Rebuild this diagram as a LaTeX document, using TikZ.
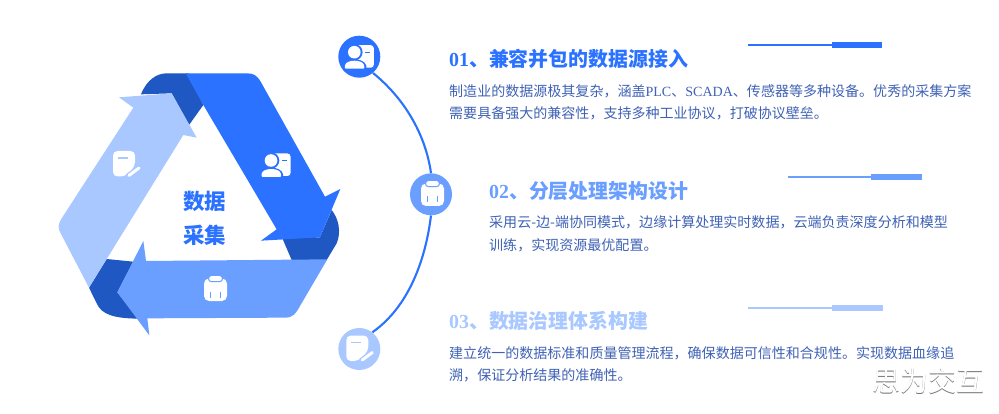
\documentclass[tikz,border=0pt]{standalone}
\usepackage{fontspec}
\setmainfont{Noto Sans CJK SC}
\newfontfamily\lat{Liberation Serif}
\definecolor{cdark}{HTML}{1F57C3}
\definecolor{cblue}{HTML}{2A72FF}
\definecolor{cmid}{HTML}{6A9EFF}
\definecolor{clight}{HTML}{A8C8FF}
\definecolor{cbody}{HTML}{3F62B5}
\tikzset{
  dot/.style={circle,minimum size=42pt,inner sep=0pt},
  ttl/.style={anchor=west,inner sep=0pt,font=\fontsize{19.9}{20}\selectfont\bfseries},
  bodytxt/.style={anchor=west,inner sep=0pt,text=cbody,font=\fontsize{14.03}{16}\selectfont},
  thin rule/.style={line width=2pt},
  thick rule/.style={line width=6pt},
  center txt/.style={inner sep=0pt,text=cblue,font=\fontsize{21.5}{24}\selectfont\bfseries},
  link/.style={cblue,line width=2.1pt},
}
\newcommand{\iconperson}[3]{% x y bg
 \begin{scope}[shift={(#1,#2)}]
  \fill[white,rounded corners=3pt] (-6,-11.5) rectangle (14.5,11);
  \fill[#3] (-5,-4.5) circle (8.3);
  \fill[#3] (-16,14) -- (-16,9) .. controls (-15,0.5) and (5,0.5) .. (7,9) -- (7,14) -- cycle;
  \fill[white] (-5,-4.5) circle (6.3);
  \fill[white,rounded corners=1pt] (-14.5,12) -- (-14.5,9.5) .. controls (-13,2.5) and (3.5,2.5) .. (5,9.5) -- (5,12) -- cycle;
  \draw[#3,line width=1.3pt] (5.5,-4.5) -- (10.5,-4.5);
 \end{scope}}
\newcommand{\iconclip}[3]{%
 \begin{scope}[shift={(#1,#2)}]
  \fill[white,rounded corners=5pt] (-11.5,-10) rectangle (11.5,12.5);
  \draw[#3,fill=white,line width=1pt,rounded corners=3pt] (-7,-13) rectangle (7,-6.8);
  \draw[#3,line width=1.4pt] (-5,3) -- (-5,9);
  \draw[#3,line width=1.4pt] (5,3) -- (5,9);
 \end{scope}}
\newcommand{\iconnote}[3]{%
 \begin{scope}[shift={(#1,#2)}]
  \fill[white,rounded corners=4.5pt] (-13,-13.5) -- (9,-13.5) -- (9,2) -- (-1,12) -- (-13,12) -- cycle;
  \draw[#3,line width=1.2pt] (-8,-6.5) -- (2,-6.5);
  \draw[#3,line width=6pt] (2,12) -- (14,3);
  \draw[white,line width=3pt,line cap=round] (3,11) -- (13,3.5);
 \end{scope}}
\begin{document}
\begin{tikzpicture}[x=1pt,y=-1pt]
\useasboundingbox (0,0) rectangle (999,414);
\fill[white] (0,0) rectangle (999,414);
% triangle
\begin{scope}[shift={(40,60)},x=0.33333pt,y=-0.33333pt]
 \fill[cdark] (303,103) .. controls (320,60) and (350,40) .. (380,40) -- (445,40) -- (490,135) -- (447,195) -- (395,100) -- cycle;
 \fill[cdark] (875,450) .. controls (895,475) and (905,515) .. (890,550) -- (860,600) -- (755,600) -- (725,530) -- (840,532) -- cycle;
 \fill[cdark] (147,683) -- (200,597) -- (280,605) -- (232,697) -- (295,776) .. controls (225,775) and (185,765) .. (170,730) -- cycle;
 \fill[cblue] (437,40) -- (620,40) .. controls (640,40) and (650,45) .. (662,65) -- (855,410) -- (901,387) -- (840,532) -- (663,542) -- (710,508) -- (490,135) -- cycle;
 \fill[cmid] (862,598) -- (780,738) .. controls (768,760) and (760,773) .. (735,773) -- (322,775) -- (328,826) -- (232,697) -- (310,543) -- (318,603) -- cycle;
 \fill[clight] (147,683) -- (62,520) .. controls (52,505) and (55,490) .. (65,475) -- (280,143) -- (237,112) -- (395,100) -- (470,233) -- (430,225) -- (200,597) -- cycle;
\end{scope}
\iconperson{276}{165}{cblue}
\iconclip{215.5}{288.5}{cmid}
\iconnote{126}{164.5}{clight}
\node[center txt] (ca) at (204.5,201.5) {数据};
\node[center txt] (cb) at (204.5,235) {采集};
% arc and dots
\node[dot,fill=cblue] (c1) at (359.3,56.7) {};
\node[dot,fill=cmid] (c2) at (431,194.3) {};
\node[dot,fill=clight] (c3) at (359.3,349) {};
\draw[link] (c1.-50) to[out=-39,in=98,looseness=.88] (c2.north);
\draw[link] (c2.south) to[out=-97,in=35,looseness=.87] (c3.52);
\iconperson{359.3}{56.7}{cblue}
\iconclip{432.5}{193.5}{cmid}
\iconnote{359.3}{349}{clight}
% rules
\coordinate (r1a) at (748,45.5); \coordinate (r1b) at (832,45.5); \coordinate (r1c) at (882,45.5);
\coordinate (r2a) at (788,177); \coordinate (r2b) at (871,177); \coordinate (r2c) at (922,177);
\coordinate (r3a) at (748,307.5); \coordinate (r3b) at (832,307.5); \coordinate (r3c) at (883,307.5);
\draw[cblue,thin rule] (r1a) -- (r1b); \draw[cblue,thick rule] (r1b) -- (r1c);
\draw[cmid,thin rule] (r2a) -- (r2b); \draw[cmid,thick rule] (r2b) -- (r2c);
\draw[clight,thin rule] (r3a) -- (r3b); \draw[clight,thick rule] (r3b) -- (r3c);
% text
\node[ttl,text=cblue] (t1) at (449,59) {{\lat 01}、兼容并包的数据源接入};
\node[bodytxt] (b1a) at (449,91) {制造业的数据源极其复杂，涵盖{\lat PLC}、{\lat SCADA}、传感器等多种设备。优秀的采集方案};
\node[bodytxt] (b1b) at (449,113) {需要具备强大的兼容性，支持多种工业协议，打破协议壁垒。};
\node[ttl,text=cmid] (t2) at (489,191) {{\lat 02}、分层处理架构设计};
\node[bodytxt] (b2a) at (489,222) {采用云-边-端协同模式，边缘计算处理实时数据，云端负责深度分析和模型};
\node[bodytxt] (b2b) at (489,245) {训练，实现资源最优配置。};
\node[ttl,text=clight] (t3) at (449,321) {{\lat 03}、数据治理体系构建};
\node[bodytxt] (b3a) at (449,353) {建立统一的数据标准和质量管理流程，确保数据可信性和合规性。实现数据血缘追};
\node[bodytxt] (b3b) at (449,375) {溯，保证分析结果的准确性。};
% watermark
\node[inner sep=0pt,text=black!55,font=\fontsize{28}{30}\selectfont] (w0) at (928.7,381.7) {思为交互};
\node[inner sep=0pt,text=white,font=\fontsize{28}{30}\selectfont] (w1) at (928,381) {思为交互};
\end{tikzpicture}
\end{document}
